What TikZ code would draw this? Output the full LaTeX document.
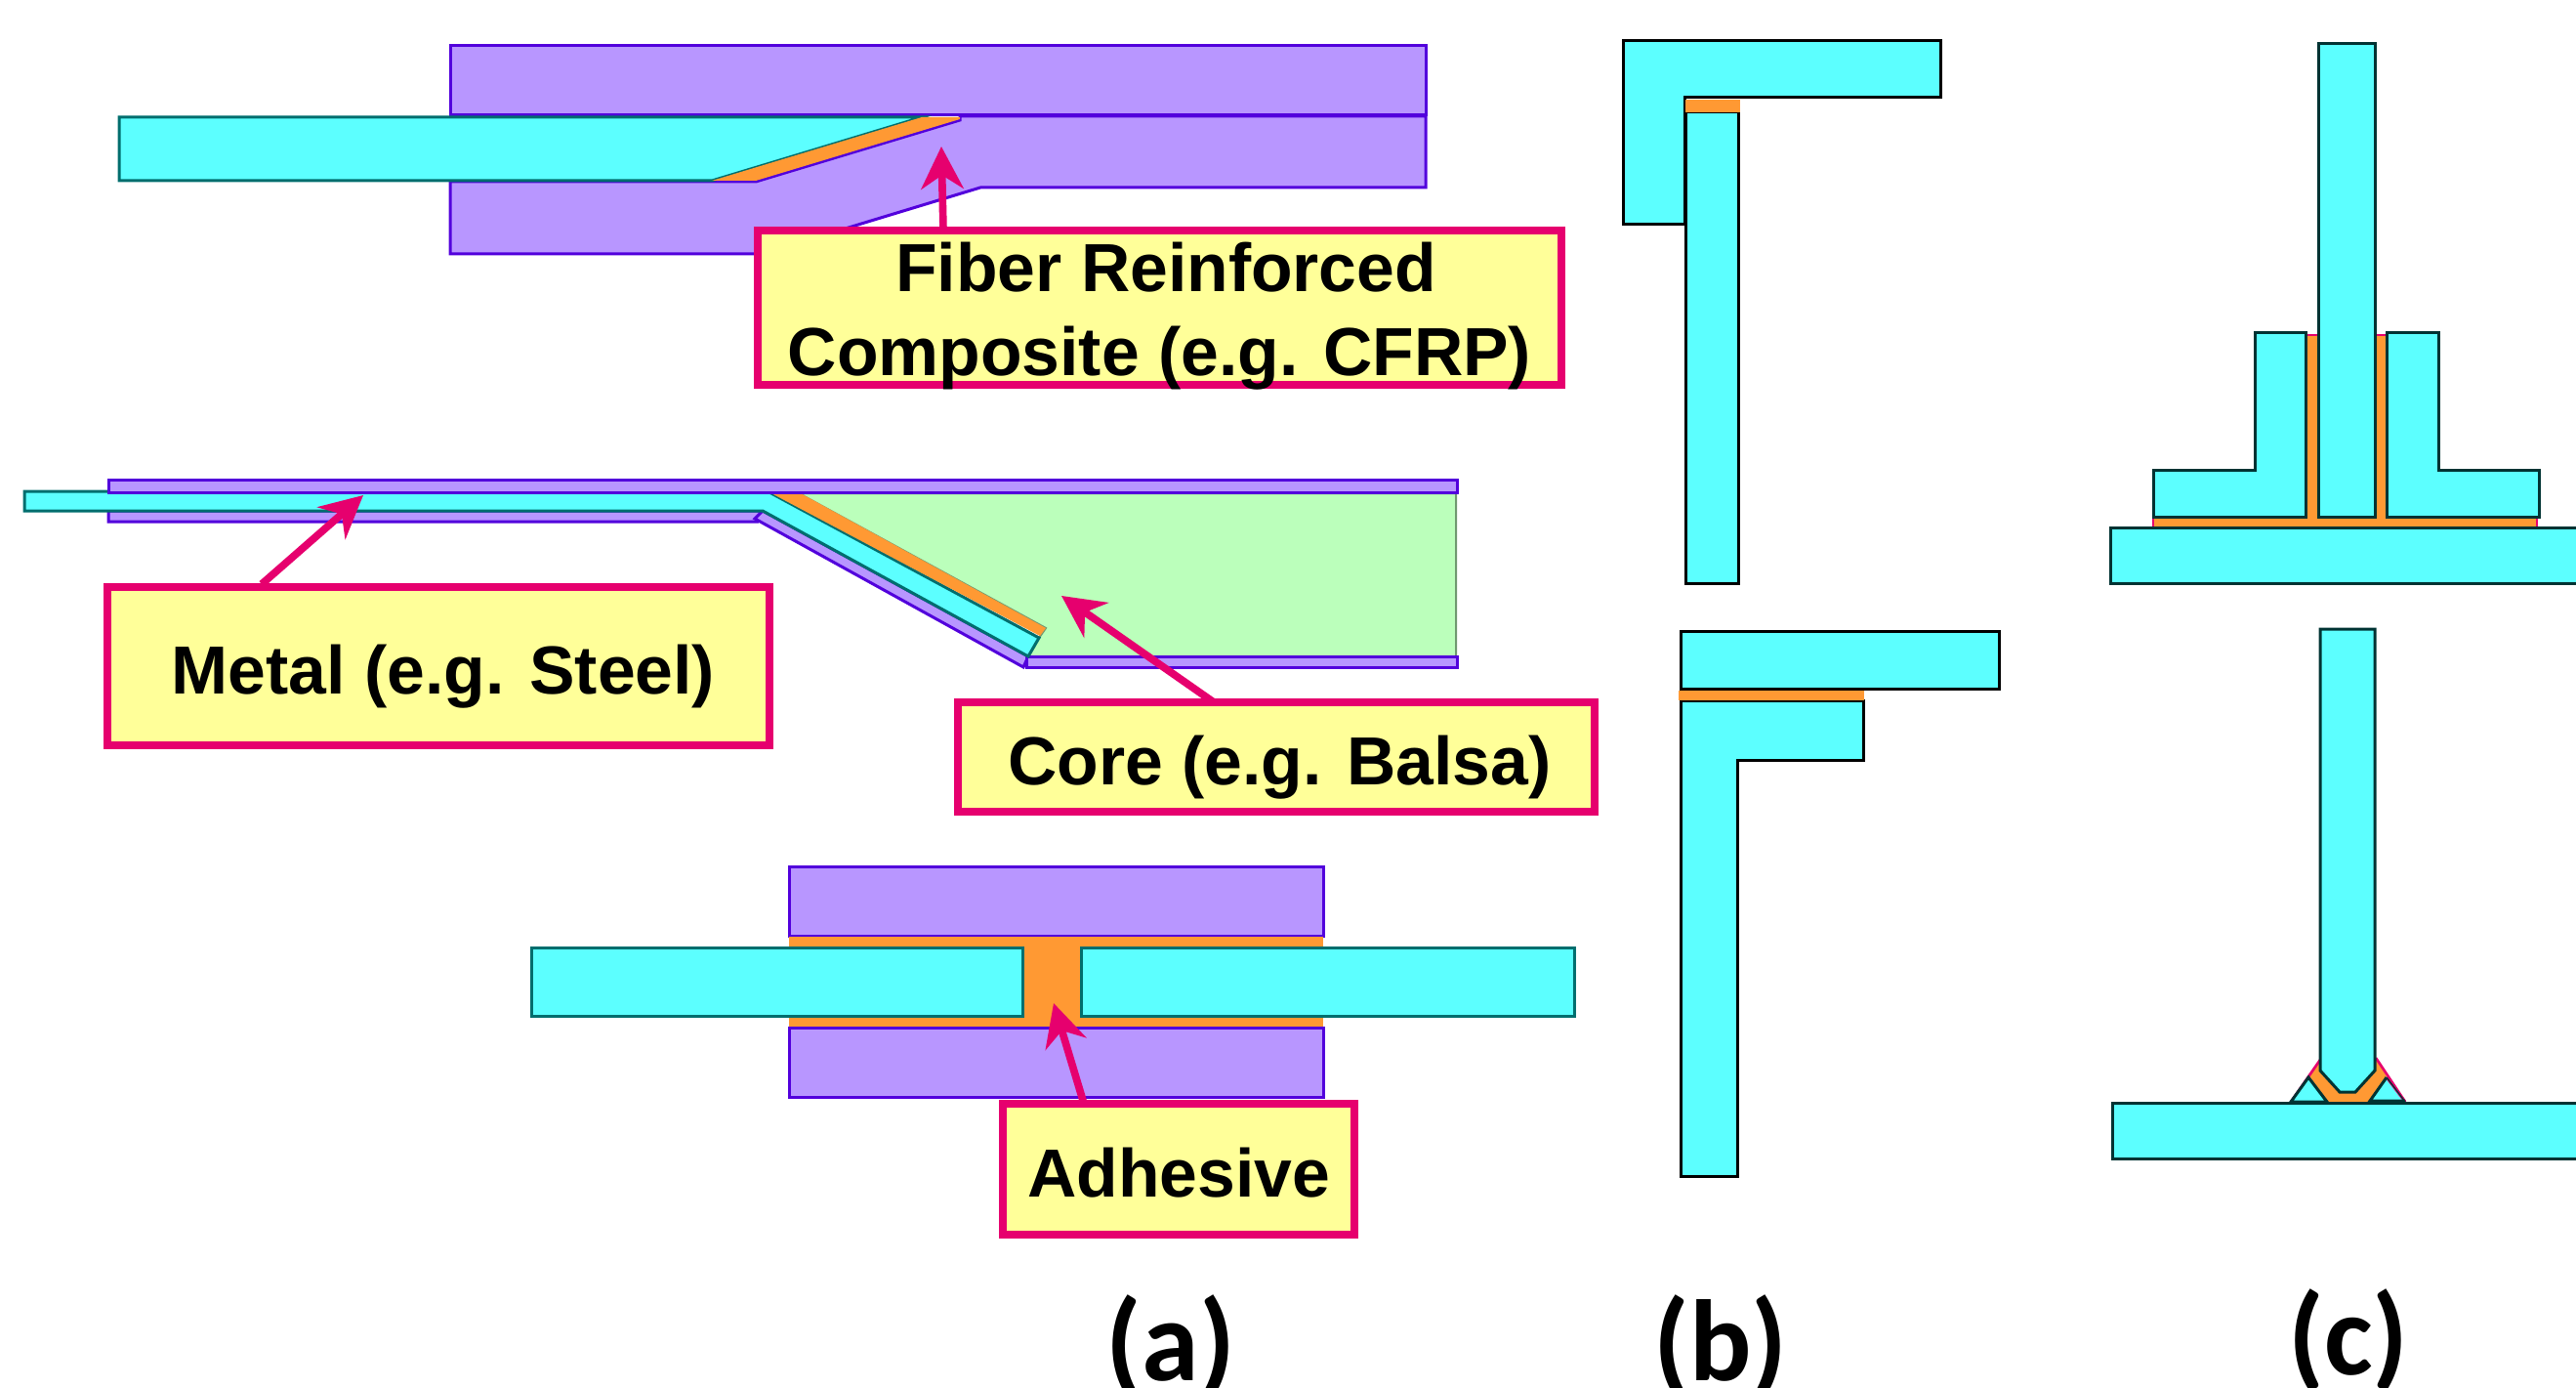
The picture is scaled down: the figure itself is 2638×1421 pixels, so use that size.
\documentclass[tikz,border=0pt]{standalone}
\usepackage{fontspec}
\setmainfont{Liberation Sans}
\newfontfamily\capfont{Carlito}
\usetikzlibrary{arrows.meta,calc}
\definecolor{cy}{HTML}{5CFFFF}
\definecolor{pu}{HTML}{B896FF}
\definecolor{pue}{HTML}{5200DC}
\definecolor{or}{HTML}{FF9933}
\definecolor{pk}{HTML}{E6006E}
\definecolor{ye}{HTML}{FFFF99}
\definecolor{gr}{HTML}{BBFFBB}
\definecolor{tl}{HTML}{006E6E}
\definecolor{dk}{HTML}{003333}
\tikzset{
  metalA/.style={fill=cy,draw=tl,line width=0.9pt},
  metalB/.style={fill=cy,draw=black,line width=0.9pt},
  metalC/.style={fill=cy,draw=dk,line width=0.9pt},
  comp/.style={fill=pu,draw=pue,line width=0.9pt},
  glue/.style={fill=or},
  gluePk/.style={fill=or,draw=pk,line width=0.8pt},
  core/.style={fill=gr,draw=gr!60!black,line width=0.6pt},
  callout/.style={draw=pk,fill=ye,line width=2.6pt,inner sep=0pt,outer sep=0pt,align=center,
    font=\fontsize{20.9}{25.8}\selectfont\bfseries},
  pointer/.style={draw=pk,line width=2.3pt,-{Stealth[length=13pt,width=13pt,inset=4.2pt]}},
  panel/.style={font=\fontsize{35.5}{40}\selectfont\capfont\bfseries,inner sep=0pt}
}
\begin{document}
\begin{tikzpicture}[x=0.3pt,y=-0.3pt]
\useasboundingbox (0,0) rectangle (2638,1421);
\clip (0,0) rectangle (2638,1421);
% --- (a) top joint
\draw[comp] (461,47) rectangle (1460,118);
\draw[comp] (461,186) -- (774,186) -- (983,123) -- (983,119) -- (1460,119) -- (1460,192) -- (1004,192) -- (780,260) -- (461,260) -- cycle;
\draw[metalA] (122,120) -- (944,120) -- (729,185) -- (122,185) -- cycle;
\fill[glue] (944,120) -- (983,120) -- (983,122) -- (774,185) -- (729,185) -- cycle;
% --- (a) sandwich
\draw[core] (818,505) -- (1491,505) -- (1491,672) -- (1053,672) -- (1064,653) -- (1071,643) -- cycle;
\draw[comp] (111,523) -- (781,523) -- (776,534) -- (111,534) -- cycle;
\draw[comp] (781,523) -- (1053,672) -- (1048,683) -- (773,531) -- cycle;
\draw[comp] (1051,672) rectangle (1492,683);
\draw[metalA] (25,503) -- (786,503) -- (1064,653) -- (1053,672) -- (781,523) -- (25,523) -- cycle;
\fill[glue] (788,504) -- (818,504) -- (1071,643) -- (1065,651) -- cycle;
\draw[comp] (111,491) rectangle (1492,504);
% --- (a) bottom joint
\draw[comp] (808,887) rectangle (1355,958);
\fill[glue] (808,959) rectangle (1355,1052);
\draw[comp] (808,1052) rectangle (1355,1123);
\draw[metalA] (544,970) rectangle (1047,1040);
\draw[metalA] (1107,970) rectangle (1612,1040);
% --- (b) top
\draw[metalB] (1662,42) -- (1987,42) -- (1987,100) -- (1725,100) -- (1725,230) -- (1662,230) -- cycle;
\draw[metalB] (1726,115) rectangle (1780,597);
\fill[glue] (1726,102) rectangle (1782,115);
% --- (b) bottom
\draw[metalB] (1721,646) rectangle (2047,705);
\draw[metalB] (1721,717) -- (1908,717) -- (1908,778) -- (1779,778) -- (1779,1204) -- (1721,1204) -- cycle;
\fill[glue] (1719,707) rectangle (1909,717);
% --- (c) top
\draw[gluePk] (2361,343) -- (2444,343) -- (2444,529) -- (2598,529) -- (2598,540) -- (2205,540) -- (2205,529) -- (2361,529) -- cycle;
\draw[metalC] (2161,540) rectangle (2660,597);
\draw[metalC] (2374,45) rectangle (2432,529);
\draw[metalC] (2309,341) -- (2361,341) -- (2361,529) -- (2205,529) -- (2205,481) -- (2309,481) -- cycle;
\draw[metalC] (2444,341) -- (2497,341) -- (2497,481) -- (2600,481) -- (2600,529) -- (2444,529) -- cycle;
% --- (c) bottom
\fill[glue] (2376,1085) -- (2365,1102) -- (2383,1128) -- (2425,1128) -- (2444,1102) -- (2433,1083) -- cycle;
\draw[pk,line width=0.8pt] (2376,1085) -- (2346,1128);
\draw[pk,line width=0.8pt] (2433,1083) -- (2463,1128);
\draw[metalC] (2364,1103) -- (2346,1128) -- (2383,1128) -- cycle;
\fill[cy] (2444,1103) -- (2427,1127) -- (2463,1127) -- cycle;
\draw[pk,line width=0.8pt] (2444,1103) -- (2463,1128);
\draw[dk,line width=0.9pt] (2444,1103) -- (2427,1127) -- (2463,1127);
\draw[dk,line width=0.4pt] (2444,1103) -- (2463,1128);
\draw[metalC] (2163,1129) rectangle (2660,1186);
\draw[metalC] (2376,644) -- (2432,644) -- (2432,1096) -- (2412,1118) -- (2396,1118) -- (2376,1096) -- cycle;
% --- callouts
\coordinate (fiberTip) at (964,150);
\coordinate (metalTip) at (372,507);
\coordinate (coreTip) at (1087,610);
\coordinate (glueTip) at (1079,1027);
\node[callout,minimum width=246.9pt,minimum height=47.4pt] (fiber) at (1187.5,315) {\rule{0pt}{17pt}\smash{\hspace*{4pt}Fiber Reinforced}\\\smash{Composite (e.g. CFRP)}\rule[-0.8pt]{0pt}{0.8pt}};
\node[callout,minimum width=203.4pt,minimum height=48.6pt] (metal) at (449,682) {\rule{0pt}{21.3pt}\hspace*{3pt}Metal (e.g. Steel)};
\node[callout,minimum width=195.6pt,minimum height=33.6pt] (corebox) at (1307,775) {\rule{0pt}{21.3pt}\hspace*{2pt}Core (e.g. Balsa)};
\node[callout,minimum width=108pt,minimum height=40.2pt] (adhesive) at (1207,1197) {\rule{0pt}{17.3pt}Adhesive};
\draw[pointer] ($(fiber.north west)+(190,0)$) -- (fiberTip);
\draw[pointer] ($(metal.north west)+(158,-3)$) -- (metalTip);
\draw[pointer] ($(corebox.north west)+(262,0)$) -- (coreTip);
\draw[pointer] ($(adhesive.north west)+(83,0)$) -- (glueTip);
% --- panel letters
\node[panel] (pa) at (1199,1379) {(a)};
\node[panel] (pb) at (1762,1379) {(b)};
\node[panel] (pc) at (2405,1373) {(c)};
\end{tikzpicture}
\end{document}
